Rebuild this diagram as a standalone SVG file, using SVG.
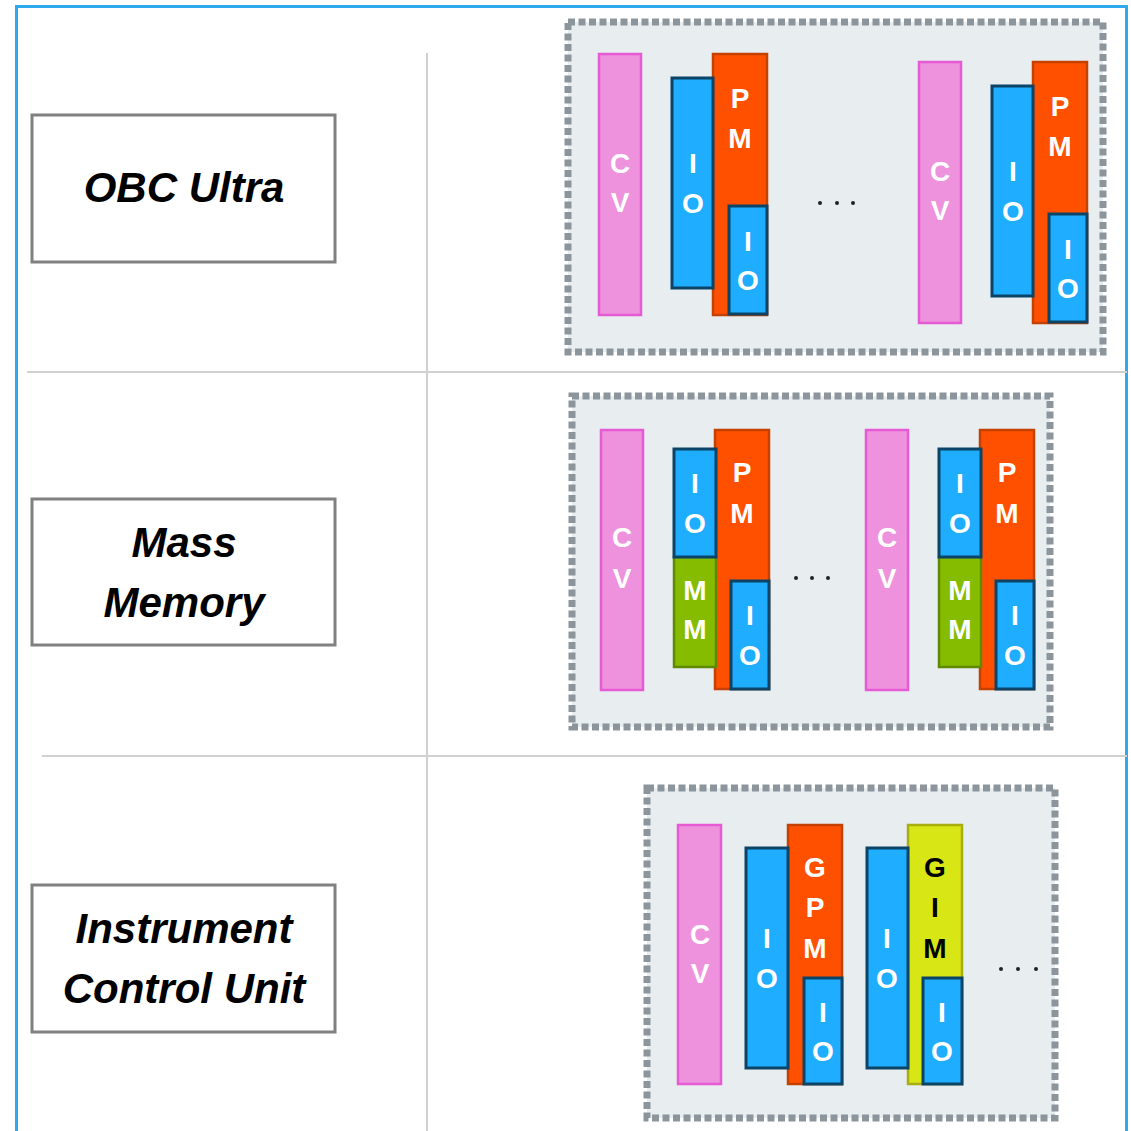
<svg xmlns="http://www.w3.org/2000/svg" width="1131" height="1131" viewBox="0 0 1131 1131">
<style>
.lbl{fill:#fff;stroke:#808080;stroke-width:3}
.lt{font-family:"Liberation Sans",Arial,sans-serif;font-weight:bold;font-style:italic;font-size:42px;fill:#000;text-anchor:middle}
.cont{fill:#E8EDF0;stroke:#8C959B;stroke-width:7;stroke-dasharray:7 3.5}
.cv{fill:#EE92DD;stroke:#E65AD4;stroke-width:2.5}
.pm{fill:#FF5000;stroke:#C44100;stroke-width:2.5}
.io{fill:#1EADFF;stroke:#0B4467;stroke-width:3}
.mm{fill:#86BC00;stroke:#5F8A00;stroke-width:2.5}
.gim{fill:#D7E614;stroke:#A7AE10;stroke-width:2.5}
.t{font-family:"Liberation Sans",Arial,sans-serif;font-weight:bold;font-size:28px;fill:#fff;text-anchor:middle}
.tk{fill:#000}
.dot{fill:#222}
.grid{stroke:#D0D0D0;stroke-width:2;fill:none}
</style>
<rect x="0" y="0" width="1131" height="1131" fill="#fff"/>
<rect x="16.5" y="6.5" width="1110" height="1140" fill="none" stroke="#2EA8EF" stroke-width="3"/>
<g id="grid">
<line class="grid" x1="427" y1="53" x2="427" y2="1131"/>
<line class="grid" x1="27" y1="372" x2="1127" y2="372"/>
<line class="grid" x1="42" y1="756" x2="1127" y2="756"/>
</g>
<g id="label-obc">
<rect class="lbl" x="32" y="115" width="303" height="147"/>
<text class="lt" x="184" y="202">OBC Ultra</text>
</g>
<g id="label-mm">
<rect class="lbl" x="32" y="499" width="303" height="146"/>
<text class="lt" x="184" y="557">Mass</text>
<text class="lt" x="184" y="617">Memory</text>
</g>
<g id="label-icu">
<rect class="lbl" x="32" y="885" width="303" height="147"/>
<text class="lt" x="184" y="943">Instrument</text>
<text class="lt" x="184" y="1003">Control Unit</text>
</g>
<defs>
<g id="obcset">
<rect class="cv" x="599" y="54" width="42" height="261"/>
<text class="t" x="620" y="173">C</text><text class="t" x="620" y="212">V</text>
<rect class="pm" x="713" y="54" width="54" height="261"/>
<text class="t" x="740" y="108">P</text><text class="t" x="740" y="148">M</text>
<rect class="io" x="672" y="78" width="41" height="210"/>
<text class="t" x="693" y="173">I</text><text class="t" x="693" y="213">O</text>
<rect class="io" x="729" y="206" width="38" height="108"/>
<text class="t" x="748" y="251">I</text><text class="t" x="748" y="290">O</text>
</g>
<g id="mmset">
<rect class="cv" x="601" y="430" width="42" height="260"/>
<text class="t" x="622" y="547">C</text><text class="t" x="622" y="588">V</text>
<rect class="pm" x="715" y="430" width="54" height="259"/>
<text class="t" x="742" y="482">P</text><text class="t" x="742" y="523">M</text>
<rect class="mm" x="674" y="557" width="42" height="110"/>
<text class="t" x="695" y="600">M</text><text class="t" x="695" y="639">M</text>
<rect class="io" x="674" y="449" width="42" height="108"/>
<text class="t" x="695" y="493">I</text><text class="t" x="695" y="533">O</text>
<rect class="io" x="731" y="581" width="38" height="108"/>
<text class="t" x="750" y="625">I</text><text class="t" x="750" y="665">O</text>
</g>
</defs>
<g id="obc-container">
<rect class="cont" x="568" y="22" width="535" height="330"/>
</g>
<g id="obc-slot1"><use href="#obcset"/></g>
<g id="obc-slot2"><use href="#obcset" transform="translate(320,8)"/></g>
<g id="obc-dots"><circle class="dot" cx="820" cy="203" r="2"/><circle class="dot" cx="837" cy="203" r="2"/><circle class="dot" cx="853" cy="203" r="2"/></g>
<g id="mm-container">
<rect class="cont" x="572" y="396" width="478" height="331"/>
</g>
<g id="mm-slot1"><use href="#mmset"/></g>
<g id="mm-slot2"><use href="#mmset" transform="translate(265,0)"/></g>
<g id="mm-dots"><circle class="dot" cx="796" cy="578" r="2"/><circle class="dot" cx="812" cy="578" r="2"/><circle class="dot" cx="828" cy="578" r="2"/></g>
<g id="icu-container">
<rect class="cont" x="647" y="788" width="408" height="330"/>
</g>
<g id="icu-cv">
<rect class="cv" x="678" y="825" width="43" height="259"/>
<text class="t" x="700" y="944">C</text><text class="t" x="700" y="983">V</text>
</g>
<g id="icu-gpm">
<rect class="pm" x="788" y="825" width="54" height="259"/>
<text class="t" x="815" y="877">G</text><text class="t" x="815" y="917">P</text><text class="t" x="815" y="958">M</text>
<rect class="io" x="746" y="848" width="42" height="220"/>
<text class="t" x="767" y="948">I</text><text class="t" x="767" y="988">O</text>
<rect class="io" x="804" y="978" width="38" height="106"/>
<text class="t" x="823" y="1022">I</text><text class="t" x="823" y="1061">O</text>
</g>
<g id="icu-gim">
<rect class="gim" x="908" y="825" width="54" height="259"/>
<text class="t tk" x="935" y="877">G</text><text class="t tk" x="935" y="917">I</text><text class="t tk" x="935" y="958">M</text>
<rect class="io" x="867" y="848" width="41" height="220"/>
<text class="t" x="887" y="948">I</text><text class="t" x="887" y="988">O</text>
<rect class="io" x="923" y="978" width="39" height="106"/>
<text class="t" x="942" y="1022">I</text><text class="t" x="942" y="1061">O</text>
</g>
<g id="icu-dots"><circle class="dot" cx="1001" cy="969" r="2"/><circle class="dot" cx="1018" cy="969" r="2"/><circle class="dot" cx="1036" cy="969" r="2"/></g>
<g id="connectors"/>
</svg>
